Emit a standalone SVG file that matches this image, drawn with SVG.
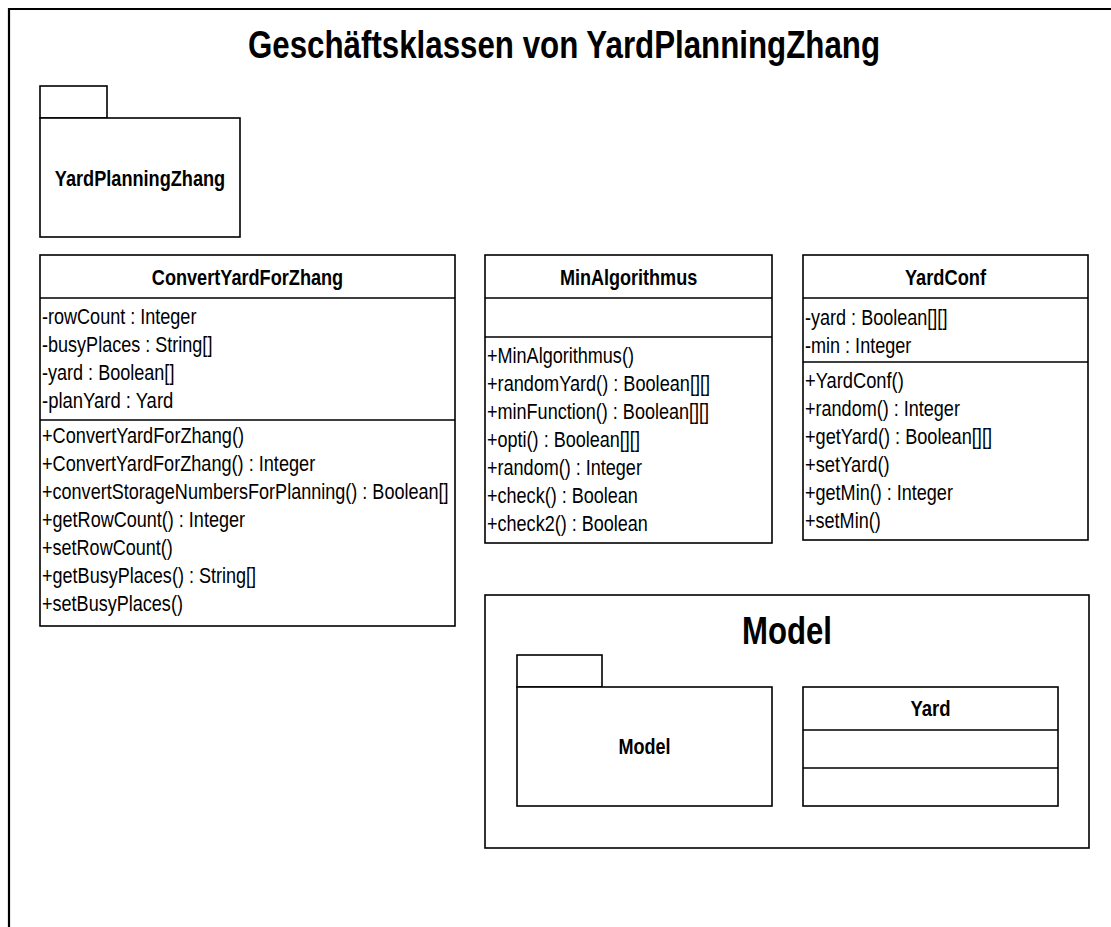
<svg xmlns="http://www.w3.org/2000/svg" width="1111" height="927" viewBox="0 0 1111 927">
  <style>
    .ln { fill: #ffffff; stroke: #000000; stroke-width: 1.6; }
    .sep { fill: none; stroke: #000000; stroke-width: 1.6; }
    .frame { fill: none; stroke: #000000; stroke-width: 2.2; }
    text { font-family: "Liberation Sans Narrow", "Arial Narrow", "Liberation Sans", Arial, sans-serif; fill: #000000; }
    .t { font-size: 22px; }
    .b { font-size: 22px; font-weight: bold; }
    .big { font-size: 38px; font-weight: bold; }
  </style>

  <rect x="0" y="0" width="1111" height="927" fill="#ffffff"/>

  <!-- diagram frame -->
  <g id="frame">
    <path class="frame" d="M9,927 V9 H1111"/>
    <text class="big" x="248" y="58" textLength="632" lengthAdjust="spacingAndGlyphs">Geschäftsklassen von YardPlanningZhang</text>
  </g>

  <!-- package YardPlanningZhang -->
  <g id="pkg-yardplanningzhang">
    <rect class="ln" x="40" y="86" width="67" height="32"/>
    <rect class="ln" x="40" y="118" width="200" height="119"/>
    <text class="b" x="54.8" y="186" textLength="170.4" lengthAdjust="spacingAndGlyphs">YardPlanningZhang</text>
  </g>

  <!-- class ConvertYardForZhang -->
  <g id="class-convertyardforzhang">
    <rect class="ln" x="40" y="255" width="415" height="371"/>
    <path class="sep" d="M40,298 H455 M40,420 H455"/>
    <text class="b" x="151.8" y="285" textLength="191.4" lengthAdjust="spacingAndGlyphs">ConvertYardForZhang</text>
    <text class="t" x="42" y="324" textLength="154.4" lengthAdjust="spacingAndGlyphs">-rowCount : Integer</text>
    <text class="t" x="42" y="352" textLength="170.4" lengthAdjust="spacingAndGlyphs">-busyPlaces : String[]</text>
    <text class="t" x="42" y="380" textLength="132.4" lengthAdjust="spacingAndGlyphs">-yard : Boolean[]</text>
    <text class="t" x="42" y="408" textLength="131.3" lengthAdjust="spacingAndGlyphs">-planYard : Yard</text>
    <text class="t" x="42" y="443" textLength="202" lengthAdjust="spacingAndGlyphs">+ConvertYardForZhang()</text>
    <text class="t" x="42" y="471" textLength="273.2" lengthAdjust="spacingAndGlyphs">+ConvertYardForZhang() : Integer</text>
    <text class="t" x="42" y="499" textLength="406.6" lengthAdjust="spacingAndGlyphs">+convertStorageNumbersForPlanning() : Boolean[]</text>
    <text class="t" x="42" y="527" textLength="203" lengthAdjust="spacingAndGlyphs">+getRowCount() : Integer</text>
    <text class="t" x="42" y="555" textLength="130.8" lengthAdjust="spacingAndGlyphs">+setRowCount()</text>
    <text class="t" x="42" y="583" textLength="214.1" lengthAdjust="spacingAndGlyphs">+getBusyPlaces() : String[]</text>
    <text class="t" x="42" y="611" textLength="140.9" lengthAdjust="spacingAndGlyphs">+setBusyPlaces()</text>
  </g>

  <!-- class MinAlgorithmus -->
  <g id="class-minalgorithmus">
    <rect class="ln" x="485" y="255" width="287" height="288"/>
    <path class="sep" d="M485,298 H772 M485,337 H772"/>
    <text class="b" x="559.9" y="285" textLength="137.3" lengthAdjust="spacingAndGlyphs">MinAlgorithmus</text>
    <text class="t" x="487" y="363" textLength="146.9" lengthAdjust="spacingAndGlyphs">+MinAlgorithmus()</text>
    <text class="t" x="487" y="391" textLength="223.1" lengthAdjust="spacingAndGlyphs">+randomYard() : Boolean[][]</text>
    <text class="t" x="487" y="419" textLength="222.1" lengthAdjust="spacingAndGlyphs">+minFunction() : Boolean[][]</text>
    <text class="t" x="487" y="447" textLength="152.9" lengthAdjust="spacingAndGlyphs">+opti() : Boolean[][]</text>
    <text class="t" x="487" y="475" textLength="154.9" lengthAdjust="spacingAndGlyphs">+random() : Integer</text>
    <text class="t" x="487" y="503" textLength="150.9" lengthAdjust="spacingAndGlyphs">+check() : Boolean</text>
    <text class="t" x="487" y="531" textLength="160.9" lengthAdjust="spacingAndGlyphs">+check2() : Boolean</text>
  </g>

  <!-- class YardConf -->
  <g id="class-yardconf">
    <rect class="ln" x="803" y="255" width="285" height="285"/>
    <path class="sep" d="M803,298 H1088 M803,362 H1088"/>
    <text class="b" x="904.9" y="285" textLength="81.2" lengthAdjust="spacingAndGlyphs">YardConf</text>
    <text class="t" x="805" y="325" textLength="142.4" lengthAdjust="spacingAndGlyphs">-yard : Boolean[][]</text>
    <text class="t" x="805" y="353" textLength="106.3" lengthAdjust="spacingAndGlyphs">-min : Integer</text>
    <text class="t" x="805" y="388" textLength="98.8" lengthAdjust="spacingAndGlyphs">+YardConf()</text>
    <text class="t" x="805" y="416" textLength="154.9" lengthAdjust="spacingAndGlyphs">+random() : Integer</text>
    <text class="t" x="805" y="444" textLength="187" lengthAdjust="spacingAndGlyphs">+getYard() : Boolean[][]</text>
    <text class="t" x="805" y="472" textLength="84.7" lengthAdjust="spacingAndGlyphs">+setYard()</text>
    <text class="t" x="805" y="500" textLength="147.9" lengthAdjust="spacingAndGlyphs">+getMin() : Integer</text>
    <text class="t" x="805" y="528" textLength="75.7" lengthAdjust="spacingAndGlyphs">+setMin()</text>
  </g>

  <!-- Model frame with its contents -->
  <g id="frame-model">
    <rect class="ln" x="485" y="595" width="604" height="253"/>
    <text class="big" x="742" y="644" textLength="90" lengthAdjust="spacingAndGlyphs">Model</text>
  </g>

  <g id="pkg-model">
    <rect class="ln" x="517" y="655" width="85" height="32"/>
    <rect class="ln" x="517" y="687" width="255" height="119"/>
    <text class="b" x="618.4" y="754" textLength="52.1" lengthAdjust="spacingAndGlyphs">Model</text>
  </g>

  <g id="class-yard">
    <rect class="ln" x="803" y="687" width="255" height="119"/>
    <path class="sep" d="M803,730 H1058 M803,768 H1058"/>
    <text class="b" x="910.4" y="716" textLength="40.1" lengthAdjust="spacingAndGlyphs">Yard</text>
  </g>

  <!-- no connectors in this view -->
  <g id="connectors"/>
</svg>
